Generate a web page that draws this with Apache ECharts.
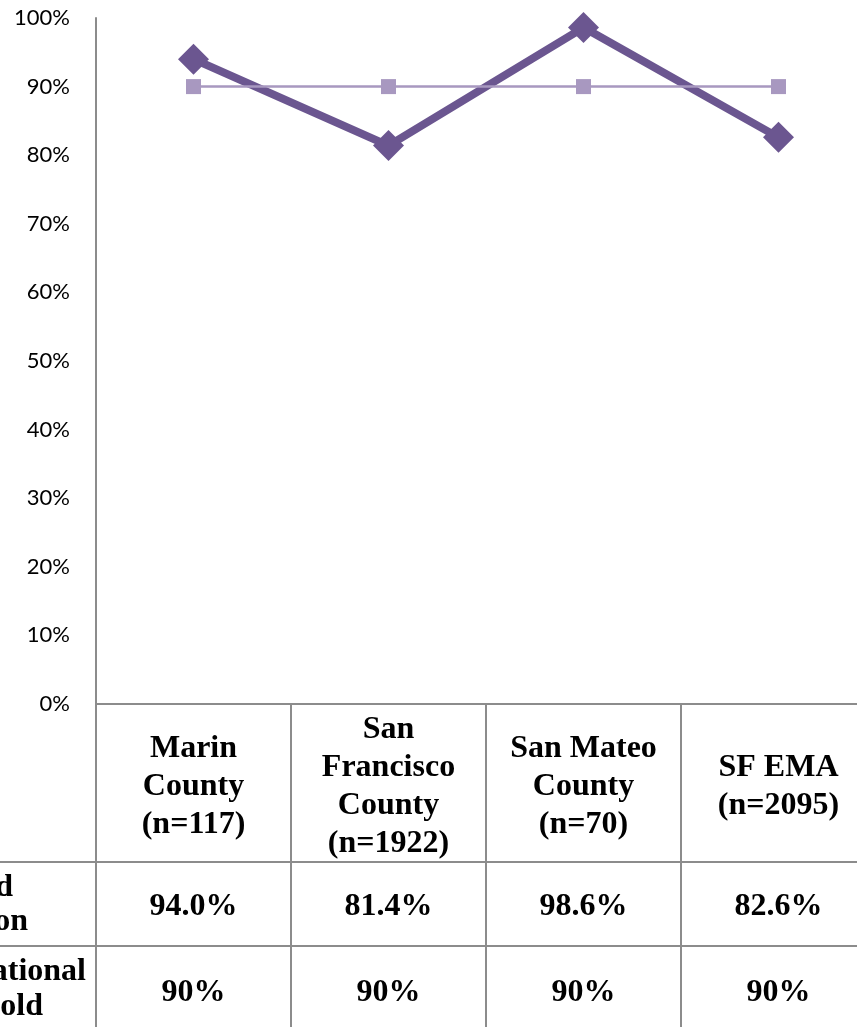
<!DOCTYPE html>
<html>
<head>
<meta charset="utf-8">
<script src="https://cdn.jsdelivr.net/npm/echarts@6/dist/echarts.min.js"></script>
<style>
html,body{margin:0;padding:0;background:#fff;}
#c{width:857px;height:1027px;}
</style>
</head>
<body>
<div id="c"></div>
<script>
// ---- data ----
const categories = ['Marin\nCounty\n(n=117)', 'San\nFrancisco\nCounty\n(n=1922)', 'San Mateo\nCounty\n(n=70)', 'SF EMA\n(n=2095)'];
const observedValues = [94.0, 81.4, 98.6, 82.6];
const thresholdValues = [90, 90, 90, 90];
const observedLabels = ['94.0%', '81.4%', '98.6%', '82.6%'];
const thresholdLabels = ['90%', '90%', '90%', '90%'];
const rowLabels = [['Observed', 'Proportion'], ['National', 'Threshold']];

const GRID = '#8c8c8c';
const SERIF = '"Liberation Serif", "DejaVu Serif", serif';
const chart = echarts.init(document.getElementById('c'), null, {renderer: 'canvas'});

function rowAxis(labels, margin) {
  return {
    type: 'category', gridIndex: 0, position: 'bottom', data: labels, boundaryGap: true,
    axisLine: {show: false}, axisTick: {show: false}, splitLine: {show: false},
    axisLabel: {interval: 0, margin: margin, verticalAlign: 'middle', fontFamily: SERIF,
      fontWeight: 'bold', fontSize: 32, color: '#000'}
  };
}

const option = {
  backgroundColor: '#fff',
  animation: false,
  grid: {left: 96, width: 780, top: 18, bottom: 323, containLabel: false, outerBoundsMode: 'none'},
  xAxis: [
    {
      type: 'category', data: categories, boundaryGap: true, position: 'bottom',
      axisLine: {show: true, lineStyle: {color: GRID, width: 2}},
      axisTick: {show: true, interval: 0, length: 323, lineStyle: {color: GRID, width: 2}},
      splitLine: {show: false},
      axisLabel: {interval: 0, margin: 83, verticalAlign: 'middle', fontFamily: SERIF,
        fontWeight: 'bold', fontSize: 32, lineHeight: 38, color: '#000'}
    },
    rowAxis(observedLabels, 203),
    rowAxis(thresholdLabels, 289)
  ],
  yAxis: {
    type: 'value', min: 0, max: 100, interval: 10,
    axisLine: {show: true, lineStyle: {color: GRID, width: 2}},
    axisTick: {show: false}, splitLine: {show: false},
    axisLabel: {formatter: '{value}%', margin: 26, fontFamily: 'Lato, "Open Sans", sans-serif',
      fontSize: 22, color: '#000'}
  },
  series: [
    {
      name: 'Observed', type: 'line', data: observedValues, xAxisIndex: 0,
      symbol: 'diamond', symbolSize: 31,
      lineStyle: {color: '#6b5690', width: 8},
      itemStyle: {color: '#6b5690'}
    },
    {
      name: 'Threshold', type: 'line', data: thresholdValues, xAxisIndex: 0,
      symbol: 'rect', symbolSize: 15,
      lineStyle: {color: '#a898c0', width: 2.5},
      itemStyle: {color: '#a898c0'}
    }
  ],
  graphic: [
    {type: 'line', shape: {x1: 0, y1: 862, x2: 857, y2: 862}, style: {stroke: GRID, lineWidth: 2}},
    {type: 'line', shape: {x1: 0, y1: 946, x2: 857, y2: 946}, style: {stroke: GRID, lineWidth: 2}},
    {type: 'text', x: 13, y: 888, style: {text: rowLabels[0][0], align: 'right', verticalAlign: 'middle', font: 'bold 32px ' + SERIF, fill: '#000'}},
    {type: 'text', x: 28, y: 922, style: {text: rowLabels[0][1], align: 'right', verticalAlign: 'middle', font: 'bold 32px ' + SERIF, fill: '#000'}},
    {type: 'text', x: 86, y: 972, style: {text: rowLabels[1][0], align: 'right', verticalAlign: 'middle', font: 'bold 32px ' + SERIF, fill: '#000'}},
    {type: 'text', x: 43, y: 1007, style: {text: rowLabels[1][1], align: 'right', verticalAlign: 'middle', font: 'bold 32px ' + SERIF, fill: '#000'}}
  ]
};
chart.setOption(option);
</script>
</body>
</html>
